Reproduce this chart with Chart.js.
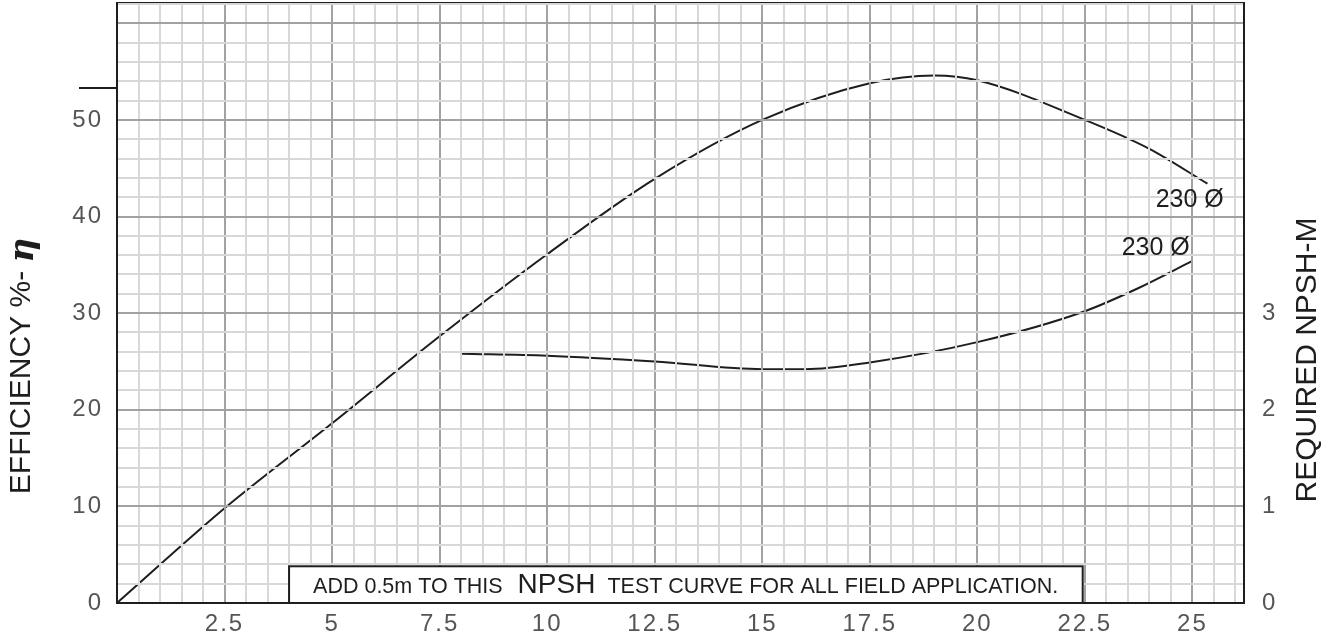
<!DOCTYPE html>
<html>
<head>
<meta charset="utf-8">
<title>Pump curve</title>
<script src="https://cdn.jsdelivr.net/npm/chart.js@4.4.1/dist/chart.umd.min.js"></script>
<style>
  html, body { margin: 0; padding: 0; background: #ffffff; }
  #wrap { width: 1337px; height: 641px; }
</style>
</head>
<body>
<div id="wrap"><canvas id="pumpChart" width="1337" height="641"></canvas></div>
<script>
// tick labels
const flowLabels = [2.5, 5, 7.5, 10, 12.5, 15, 17.5, 20, 22.5, 25];
const effLabels = [0, 10, 20, 30, 40, 50];
const npshLabels = [0, 1, 2, 3];

// efficiency curve (left axis, %)
const effFlow = [0, 2.5, 5, 7.5, 10, 12.5, 15, 17.5, 19, 20, 22.5, 24, 25.35];
const effValue = [0, 9.8, 18.6, 27.6, 36.1, 43.9, 50.0, 53.8, 54.6, 54.1, 50.0, 47.0, 43.4];

// required NPSH curve (right axis, m)
const npshFlow = [8, 10, 12.5, 15, 16, 17.5, 20, 22.5, 23.75, 25];
const npshValue = [2.58, 2.56, 2.50, 2.42, 2.42, 2.49, 2.70, 3.02, 3.26, 3.54];

const curveTag = '230 Ø';
const noteParts = ['ADD 0.5m TO THIS', 'NPSH', 'TEST CURVE FOR ALL FIELD APPLICATION.'];
const stubValue = 53.3;

const X_MAX = 26.2;
const Y_MAX = 62.1;

const INK = '#1e1e1e';
const TICK_GRAY = '#555555';
const MAJOR = '#a2a2a2';
const MINOR = '#d8d8d8';

function isStep(v, step) {
    return Math.abs(v / step - Math.round(v / step)) < 1e-6;
}

function toPoints(xs, ys) {
    return xs.map((x, i) => ({ x: x, y: ys[i] }));
}

// no extra room for half-height tick labels at the ends
function noPad(scale) {
    scale.paddingTop = 0;
    scale.paddingBottom = 0;
    scale.paddingLeft = 0;
    scale.paddingRight = 0;
}

// extra drawing: top frame, stub mark, curve tags, note box, axis titles
const decorations = {
    id: 'decorations',
    beforeDraw(chart) {
        // tick numbers are printed a little spread out
        chart.ctx.letterSpacing = '2px';
    },
    beforeDatasetsDraw(chart) {
        chart.ctx.letterSpacing = '0px';
    },
    afterDatasetsDraw(chart) {
        const { ctx, chartArea: a } = chart;
        ctx.save();
        ctx.strokeStyle = INK;
        ctx.lineWidth = 2;
        ctx.beginPath();
        ctx.moveTo(a.left, a.top);
        ctx.lineTo(a.right, a.top);
        ctx.stroke();
        ctx.restore();
    },
    afterDraw(chart) {
        const { ctx, chartArea: a } = chart;
        const x = chart.scales.x, y = chart.scales.y, y2 = chart.scales.y2;
        ctx.save();
        ctx.letterSpacing = '0px';

        // small mark left of the frame
        const sy = y.getPixelForValue(stubValue);
        ctx.strokeStyle = INK;
        ctx.lineWidth = 2;
        ctx.beginPath();
        ctx.moveTo(a.left - 38, sy);
        ctx.lineTo(a.left, sy);
        ctx.stroke();

        // curve tags
        ctx.fillStyle = INK;
        ctx.font = '25px "Liberation Sans", Arial, sans-serif';
        ctx.textAlign = 'right';
        ctx.textBaseline = 'middle';
        ctx.fillText(curveTag, x.getPixelForValue(25.73), y.getPixelForValue(41.7));
        ctx.fillText(curveTag, x.getPixelForValue(24.94), y2.getPixelForValue(3.67));

        // note box
        const bl = x.getPixelForValue(4.0), br = x.getPixelForValue(22.45);
        const bt = y.getPixelForValue(3.8), bb = a.bottom;
        ctx.fillStyle = '#ffffff';
        ctx.fillRect(bl, bt, br - bl, bb - bt);
        ctx.strokeStyle = INK;
        ctx.lineWidth = 2;
        ctx.strokeRect(bl, bt, br - bl, bb - bt);

        ctx.fillStyle = INK;
        ctx.textAlign = 'left';
        ctx.textBaseline = 'alphabetic';
        const small = '21.5px "Liberation Sans", Arial, sans-serif';
        const big = '28px "Liberation Sans", Arial, sans-serif';
        let tx = bl + 24;
        const base = bb - 10;
        ctx.font = small;
        ctx.fillText(noteParts[0], tx, base);
        tx += ctx.measureText(noteParts[0]).width + 15;
        ctx.font = big;
        ctx.fillText(noteParts[1], tx, base);
        tx += ctx.measureText(noteParts[1]).width + 12;
        ctx.font = small;
        ctx.fillText(noteParts[2], tx, base);

        // axis titles, both reading bottom to top
        ctx.fillStyle = INK;
        ctx.textBaseline = 'middle';
        ctx.save();
        ctx.translate(22, 366);
        ctx.rotate(-Math.PI / 2);
        const lead = 'EFFICIENCY %- ';
        ctx.font = '30px "Liberation Sans", Arial, sans-serif';
        const w1 = ctx.measureText(lead).width;
        ctx.font = 'italic bold 34px "DejaVu Serif", serif';
        const w2 = ctx.measureText('η').width;
        let lx = -(w1 + w2) / 2;
        ctx.textAlign = 'left';
        ctx.font = '30px "Liberation Sans", Arial, sans-serif';
        ctx.fillText(lead, lx, 0);
        ctx.font = 'italic bold 34px "DejaVu Serif", serif';
        ctx.fillText('η', lx + w1, 2);
        ctx.restore();

        ctx.save();
        ctx.translate(1308, 360);
        ctx.rotate(-Math.PI / 2);
        ctx.textAlign = 'center';
        ctx.font = '30px "Liberation Sans", Arial, sans-serif';
        ctx.fillText('REQUIRED NPSH-M', 0, 0);
        ctx.restore();

        ctx.restore();
    }
};

const tickFont = { family: '"Liberation Sans", Arial, sans-serif', size: 24 };

new Chart(document.getElementById('pumpChart'), {
    type: 'line',
    data: {
        datasets: [
            {
                label: 'Efficiency',
                data: toPoints(effFlow, effValue),
                yAxisID: 'y',
                borderColor: INK,
                borderWidth: 2,
                pointRadius: 0,
                fill: false,
                cubicInterpolationMode: 'monotone'
            },
            {
                label: 'NPSH',
                data: toPoints(npshFlow, npshValue),
                yAxisID: 'y2',
                borderColor: INK,
                borderWidth: 2,
                pointRadius: 0,
                fill: false,
                cubicInterpolationMode: 'monotone'
            }
        ]
    },
    options: {
        responsive: false,
        animation: false,
        layout: { padding: { top: 3, left: 0, right: 0, bottom: 0 } },
        plugins: {
            legend: { display: false },
            tooltip: { enabled: false },
            title: { display: false }
        },
        scales: {
            x: {
                type: 'linear',
                min: 0,
                max: X_MAX,
                afterBuildTicks: (scale) => {
                    const t = [];
                    for (let i = 0; i <= 52; i++) t.push({ value: i / 2 });
                    scale.ticks = t;
                },
                afterFit: (scale) => { scale.height = 38; noPad(scale); },
                grid: {
                    z: 1,
                    drawTicks: false,
                    lineWidth: 2,
                    color: (c) => isStep(c.tick.value, 2.5) ? MAJOR : MINOR
                },
                border: { color: INK, width: 2, z: 2 },
                ticks: {
                    autoSkip: false,
                    maxRotation: 0,
                    padding: 7,
                    color: TICK_GRAY,
                    font: tickFont,
                    callback: (v) => flowLabels.some(f => Math.abs(f - v) < 1e-6) ? String(v) : ''
                }
            },
            y: {
                type: 'linear',
                position: 'left',
                min: 0,
                max: Y_MAX,
                afterBuildTicks: (scale) => {
                    const t = [];
                    for (let v = 0; v <= 62; v += 2) t.push({ value: v });
                    scale.ticks = t;
                },
                afterFit: (scale) => { scale.width = 117; noPad(scale); },
                grid: {
                    z: 1,
                    drawTicks: false,
                    lineWidth: 2,
                    color: (c) => isStep(c.tick.value, 10) ? MAJOR : MINOR
                },
                border: { color: INK, width: 2, z: 2 },
                ticks: {
                    autoSkip: false,
                    padding: 14,
                    color: TICK_GRAY,
                    font: tickFont,
                    callback: (v) => effLabels.includes(v) ? String(v) : ''
                }
            },
            y2: {
                type: 'linear',
                position: 'right',
                min: 0,
                max: Y_MAX / 10,
                afterBuildTicks: (scale) => {
                    scale.ticks = npshLabels.map(v => ({ value: v }));
                },
                afterFit: (scale) => { scale.width = 93; noPad(scale); },
                grid: { display: false, drawTicks: false },
                border: { color: INK, width: 2, z: 2 },
                ticks: {
                    autoSkip: false,
                    padding: 18,
                    color: TICK_GRAY,
                    font: tickFont,
                    callback: (v) => String(v)
                }
            }
        }
    },
    plugins: [decorations]
});
</script>
</body>
</html>
